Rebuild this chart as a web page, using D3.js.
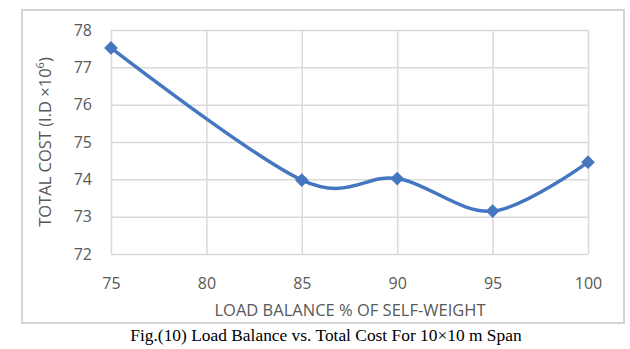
<!DOCTYPE html>
<html>
<head>
<meta charset="utf-8">
<script src="https://cdn.jsdelivr.net/npm/d3@7"></script>
<style>
  body { margin: 0; background: #fff; }
  svg { display: block; }
  .tick text { font-family: "Open Sans", sans-serif; font-size: 16px; fill: #595959; }
  .label { font-family: "Open Sans", sans-serif; font-size: 16.5px; fill: #595959; }
  .caption { font-family: "Liberation Serif", serif; font-size: 17.4px; fill: #000; }
</style>
</head>
<body>
<svg id="chart" width="630" height="349"></svg>
<script>
var width = 630, height = 349;

// load balance (% of self-weight) and total cost (I.D x10^6)
var loadBalance = [75, 85, 90, 95, 100];
var totalCost = [77.52, 73.98, 74.02, 73.15, 74.46];
var xTicks = [75, 80, 85, 90, 95, 100];
var yTicks = [72, 73, 74, 75, 76, 77, 78];

var plot = { left: 111, right: 588, top: 30, bottom: 254 };

var x = d3.scaleLinear()
        .domain([75, 100])
        .range([plot.left, plot.right]);

var y = d3.scaleLinear()
        .domain([72, 78])
        .range([plot.bottom, plot.top]);

var svg = d3.select("#chart");

// outer frame
svg.append("rect")
        .attr("x", 22)
        .attr("y", 10)
        .attr("width", 602)
        .attr("height", 313)
        .attr("fill", "#fff")
        .attr("stroke", "#d4d4d4")
        .attr("stroke-width", 2);

// gridlines
svg.append("g")
        .attr("transform", "translate(0," + plot.bottom + ")")
        .call(d3.axisBottom(x).tickValues(xTicks).tickSize(-(plot.bottom - plot.top)).tickFormat(""))
        .call(function (g) { g.select(".domain").remove(); })
        .selectAll("line")
        .attr("stroke", "#d9d9d9")
        .attr("stroke-width", 1.5);

svg.append("g")
        .attr("transform", "translate(" + plot.left + ",0)")
        .call(d3.axisLeft(y).tickValues(yTicks).tickSize(-(plot.right - plot.left)).tickFormat(""))
        .call(function (g) { g.select(".domain").remove(); })
        .selectAll("line")
        .attr("stroke", "#d9d9d9")
        .attr("stroke-width", 1.5);

// tick labels
svg.append("g")
        .attr("transform", "translate(0," + plot.bottom + ")")
        .call(d3.axisBottom(x).tickValues(xTicks).tickSize(0).tickPadding(24).tickFormat(d3.format("d")))
        .call(function (g) { g.select(".domain").remove(); });

svg.append("g")
        .attr("transform", "translate(" + plot.left + ",0)")
        .call(d3.axisLeft(y).tickValues(yTicks).tickSize(0).tickPadding(19).tickFormat(d3.format("d")))
        .call(function (g) { g.select(".domain").remove(); });

// axis titles
svg.append("text")
        .attr("class", "label")
        .attr("x", 350)
        .attr("y", 316)
        .attr("text-anchor", "middle")
        .text("LOAD BALANCE % OF SELF-WEIGHT");

var yTitle = svg.append("text")
        .attr("class", "label")
        .attr("transform", "translate(51,142) rotate(-90)")
        .attr("text-anchor", "middle");
yTitle.append("tspan").text("TOTAL COST (I.D \u00d710");
yTitle.append("tspan").attr("dy", -7).style("font-size", "11px").text("6");
yTitle.append("tspan").attr("dy", 7).text(")");

// smoothed series line
var points = loadBalance.map(function (d, i) { return [d, totalCost[i]]; });

var line = d3.line()
        .x(function (d) { return x(d[0]); })
        .y(function (d) { return y(d[1]); })
        .curve(d3.curveCardinal.tension(0));

svg.append("path")
        .datum(points)
        .attr("d", line)
        .attr("fill", "none")
        .attr("stroke", "#4576c0")
        .attr("stroke-width", 3.5)
        .attr("stroke-linejoin", "round");

var symbol = d3.symbol().type(d3.symbolDiamond2).size(120);

svg.selectAll(".marker")
        .data(points)
        .enter().append("path")
        .attr("class", "marker")
        .attr("d", symbol)
        .attr("fill", "#4576c0")
        .attr("transform", function (d) { return "translate(" + x(d[0]) + "," + y(d[1]) + ")"; });

// figure caption
svg.append("text")
        .attr("class", "caption")
        .attr("x", 326)
        .attr("y", 341)
        .attr("text-anchor", "middle")
        .text("Fig.(10) Load Balance vs. Total Cost For 10\u00d710 m Span");
</script>
</body>
</html>
